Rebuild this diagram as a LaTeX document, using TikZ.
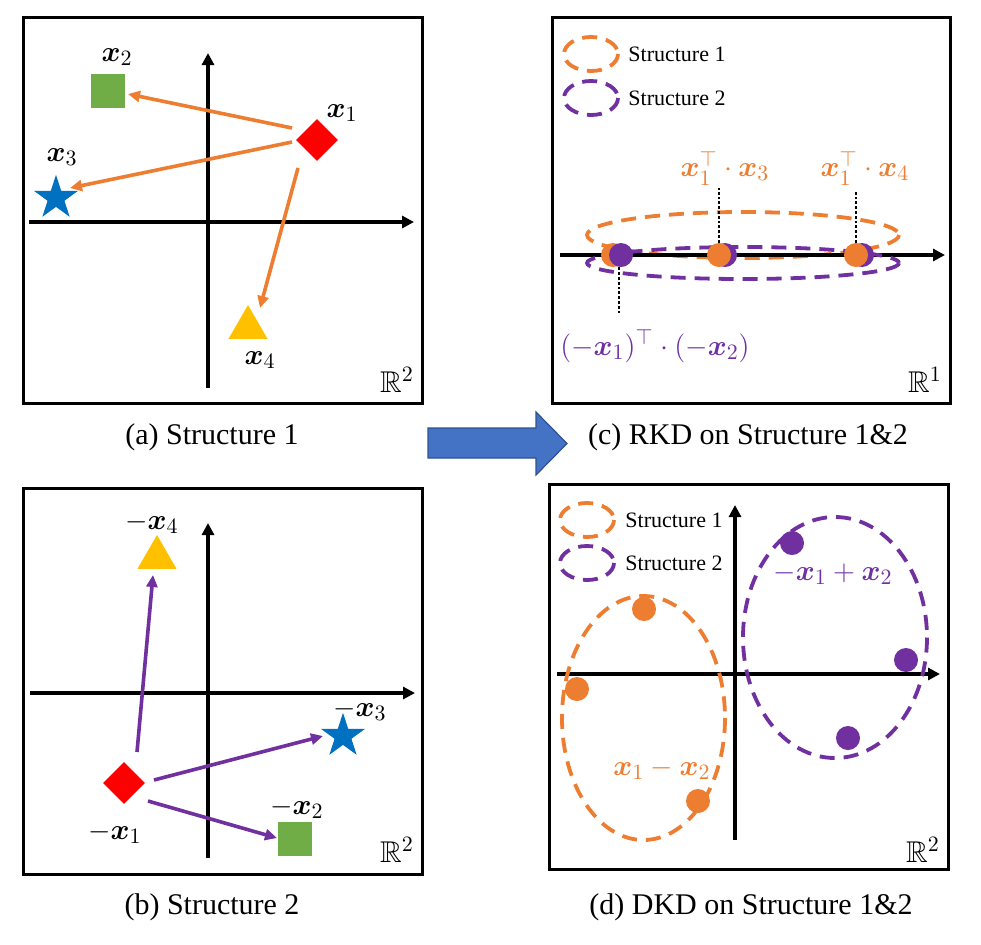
\documentclass[tikz,border=0pt]{standalone}
\usepackage{amsmath,amssymb,bm}
\usepackage{fontspec}
\setmainfont{Liberation Serif}
\usetikzlibrary{arrows.meta,shapes.geometric,calc}
\definecolor{ora}{HTML}{ED7D31}
\definecolor{pur}{HTML}{7030A0}
\definecolor{redd}{HTML}{FF0000}
\definecolor{grn}{HTML}{70AD47}
\definecolor{blu}{HTML}{0070C0}
\definecolor{yel}{HTML}{FFC000}
\definecolor{arrfill}{HTML}{4472C4}
\definecolor{arrdraw}{HTML}{2F528F}
\tikzset{
  framebox/.style={draw=black, line width=1.5pt},
  axisline/.style={line width=2pt, -{Triangle[length=6pt,width=6pt]}},
  conn/.style={line width=1.8pt, -{Triangle[length=6pt,width=5.5pt]}},
  dia/.style={diamond, fill=redd, inner sep=0pt, minimum size=21pt},
  sq/.style={rectangle, fill=grn, inner sep=0pt, minimum size=17pt},
  st/.style={star, star points=5, star point ratio=2.618, fill=blu, inner sep=0pt, minimum size=23.2pt},
  tri/.style={regular polygon, regular polygon sides=3, fill=yel, inner sep=0pt, minimum size=22.5pt},
  lab/.style={font=\fontsize{15}{17}\selectfont, inner sep=0pt},
  rlab/.style={font=\fontsize{15}{17}\selectfont, inner sep=0pt},
  captxt/.style={font=\fontsize{15}{18}\selectfont, inner sep=0pt},
  legtxt/.style={font=\fontsize{11}{13}\selectfont, anchor=west, inner sep=0pt},
  dsh/.style={line width=1.9pt, dash pattern=on 7.5pt off 4.5pt},
  dt/.style={circle, inner sep=0pt, minimum size=12pt},
  dotl/.style={line width=1.3pt, dash pattern=on 1.4pt off 1pt},
}
\begin{document}
\begin{tikzpicture}[x=0.5pt,y=-0.5pt]
\useasboundingbox (0,0) rectangle (981,944);

% ---------------- panel (a)
\draw[framebox] (23,17) rectangle (422,403);
\coordinate (ah0) at (29,222); \coordinate (ah1) at (414,222);
\coordinate (av0) at (208,388); \coordinate (av1) at (208,53);
\draw[axisline] (ah0) -- (ah1);
\draw[axisline] (av0) -- (av1);
\node[dia] (a1) at (317,140) {};
\node[sq]  (a2) at (108,91) {};
\node[st]  (a3) at (56,198) {};
\node[tri] (a4) at (248,327.5) {};
\node[lab] (la1) at (342,113) {$\bm{x}_1$};
\node[lab] (la2) at (117,57) {$\bm{x}_2$};
\node[lab] (la3) at (62,157) {$\bm{x}_3$};
\node[lab] (la4) at (260,360) {$\bm{x}_4$};
\node[rlab] (ra) at (397,380) {$\mathbb{R}^2$};
\draw[conn, ora] ([shift={(-25,-12)}]a1.center) -- ([shift={(20,3)}]a2.center);
\draw[conn, ora] ([shift={(-25,2)}]a1.center) -- ([shift={(14,-10)}]a3.center);
\draw[conn, ora] ([shift={(-19,28)}]a1.center) -- ([shift={(12,-19.5)}]a4.center);
\node[captxt] (capa) at (212,437) {(a) Structure 1};

% ---------------- panel (b)
\draw[framebox] (23,488) rectangle (422,874);
\coordinate (bh0) at (30,693); \coordinate (bh1) at (415,693);
\coordinate (bv0) at (208,858); \coordinate (bv1) at (208,523);
\draw[axisline] (bh0) -- (bh1);
\draw[axisline] (bv0) -- (bv1);
\node[dia] (b1) at (124,783) {};
\node[sq]  (b2) at (295,839) {};
\node[st]  (b3) at (343,736) {};
\node[tri] (b4) at (157,557.5) {};
\node[lab] (lb1) at (115,833) {$-\bm{x}_1$};
\node[lab] (lb2) at (297,808) {$-\bm{x}_2$};
\node[lab] (lb3) at (360,710) {$-\bm{x}_3$};
\node[lab] (lb4) at (152,523) {$-\bm{x}_4$};
\node[rlab] (rb) at (397,850) {$\mathbb{R}^2$};
\draw[conn, pur] ([shift={(13,-31)}]b1.center) -- ([shift={(-4,17.5)}]b4.center);
\draw[conn, pur] ([shift={(30,-3)}]b1.center) -- ([shift={(-20,0)}]b3.center);
\draw[conn, pur] ([shift={(24,18)}]b1.center) -- ([shift={(-18,-1)}]b2.center);
\node[captxt] (capb) at (212,907) {(b) Structure 2};

% ---------------- big arrow
\filldraw[fill=arrfill, draw=arrdraw, line width=0.6pt]
  (428,428) -- (536,428) -- (536,412) -- (567,443.5) -- (536,475) -- (536,458) -- (428,458) -- cycle;

% ---------------- panel (c)
\draw[framebox] (552,17) rectangle (950,403);
\draw[dsh, ora] (591,54) ellipse [x radius=27, y radius=17];
\draw[dsh, pur] (591,98) ellipse [x radius=27, y radius=17];
\node[legtxt] (lc1) at (628,54) {Structure 1};
\node[legtxt] (lc2) at (628,98) {Structure 2};
\draw[dsh, ora] (743,235) ellipse [x radius=156, y radius=23];
\coordinate (ch0) at (560,255); \coordinate (ch1) at (945,255);
\draw[axisline] (ch0) -- (ch1);
\draw[dsh, pur] (743,263) ellipse [x radius=156, y radius=16];
\node[dt, fill=ora] (c1o) at (613,255) {};
\node[dt, fill=pur] (c1p) at (621,255) {};
\node[dt, fill=pur] (c2p) at (725,255) {};
\node[dt, fill=ora] (c2o) at (719,255) {};
\node[dt, fill=pur] (c3p) at (862,255) {};
\node[dt, fill=ora] (c3o) at (856,255) {};
\coordinate (t2) at (719,188);
\coordinate (t3) at (856,192);
\coordinate (t1) at (619,313);
\draw[dotl] (c2o.north) -- (t2);
\draw[dotl] (c3o.north) -- (t3);
\draw[dotl] (c1p.south -| t1) -- (t1);
\node[lab, text=ora] (lc3) at (725,168) {$\bm{x}_1^{\top}\cdot\bm{x}_3$};
\node[lab, text=ora] (lc4) at (865,168) {$\bm{x}_1^{\top}\cdot\bm{x}_4$};
\node[lab, text=pur] (lc5) at (655,346) {$(-\bm{x}_1)^{\top}\cdot(-\bm{x}_2)$};
\node[rlab] (rc) at (925,380) {$\mathbb{R}^1$};
\node[captxt] (capc) at (748,437) {(c) RKD on Structure 1\&2};

% ---------------- panel (d)
\draw[framebox] (549,484) rectangle (948,869);
\draw[dsh, ora] (587,520) ellipse [x radius=27, y radius=17];
\draw[dsh, pur] (587,563) ellipse [x radius=27, y radius=17];
\node[legtxt] (ld1) at (625,520) {Structure 1};
\node[legtxt] (ld2) at (625,563) {Structure 2};
\coordinate (dh0) at (557,674); \coordinate (dh1) at (940,674);
\coordinate (dv0) at (735,840); \coordinate (dv1) at (735,505);
\draw[axisline] (dh0) -- (dh1);
\draw[axisline] (dv0) -- (dv1);
\draw[dsh, ora] (643.5,718) ellipse [x radius=81.5, y radius=122];
\draw[dsh, pur] (835,637.5) ellipse [x radius=92, y radius=120.5];
\node[dt, fill=ora] (d1) at (644,609) {};
\node[dt, fill=ora] (d2) at (577,689) {};
\node[dt, fill=ora] (d3) at (698,801) {};
\node[dt, fill=pur] (d4) at (792,543) {};
\node[dt, fill=pur] (d5) at (906,660) {};
\node[dt, fill=pur] (d6) at (848,738) {};
\node[lab, text=pur] (ld3) at (833,574) {$-\bm{x}_1+\bm{x}_2$};
\node[lab, text=ora] (ld4) at (662,769) {$\bm{x}_1-\bm{x}_2$};
\node[rlab] (rd) at (923,850) {$\mathbb{R}^2$};
\node[captxt] (capd) at (751,907) {(d) DKD on Structure 1\&2};
\end{tikzpicture}
\end{document}
